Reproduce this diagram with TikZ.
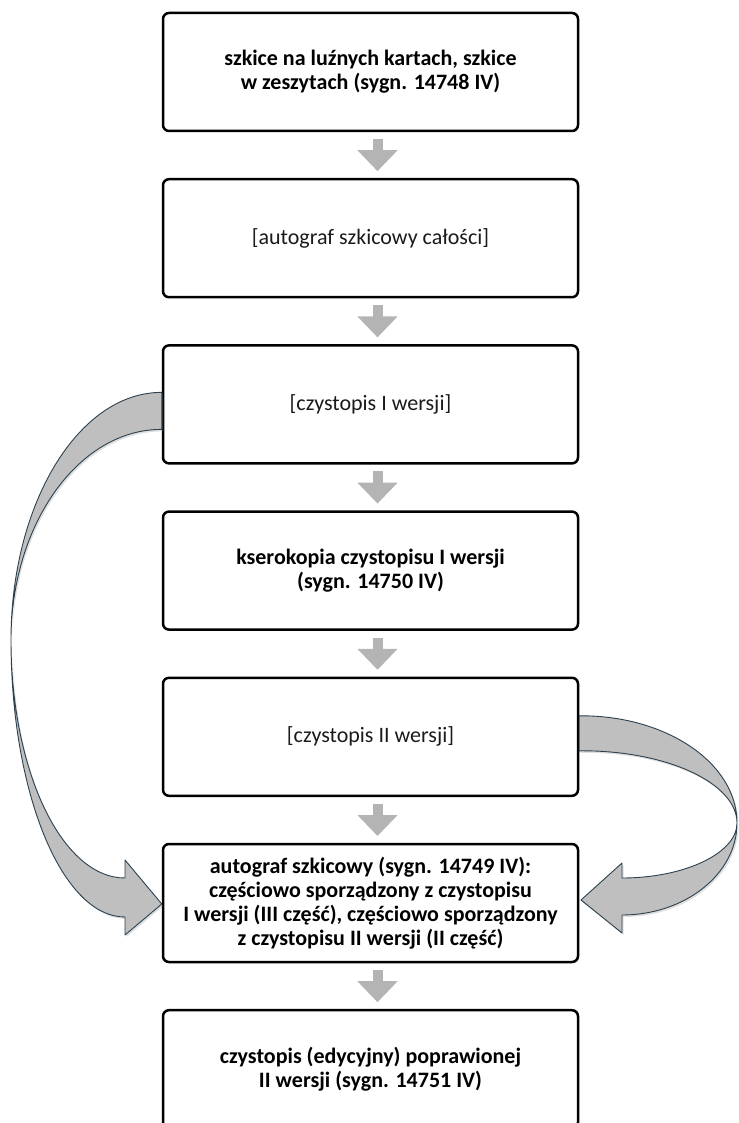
\documentclass[tikz,border=0pt]{standalone}
\usepackage{fontspec}
\setmainfont{Carlito}
\usetikzlibrary{arrows.meta,calc,positioning,shadows}

\definecolor{flowgray}{HTML}{B4B4B4}
\definecolor{bendfill}{HTML}{BFBFBF}
\definecolor{bendedge}{HTML}{2B4150}
\definecolor{txtgray}{HTML}{1A1A1A}

\tikzset{
  stage/.style={draw, line width=2.5pt, rounded corners=6pt, outer sep=0pt,
    minimum width=415pt, minimum height=118pt, inner sep=0pt, align=center,
    font=\fontsize{22}{24}\selectfont},
  stagebf/.style={stage, font=\fontsize{22}{24}\selectfont\bfseries},
  stagelt/.style={stage, text=txtgray},
  flowarr/.style={draw=flowgray, line width=10pt, line cap=butt,
    -{Triangle[width=39pt,length=21pt]}},
  bendarr/.style={fill=bendfill, draw=bendedge, line width=0.9pt, line join=round,
    drop shadow={opacity=0.25, shadow xshift=1.5pt, shadow yshift=-2pt}},
}

\begin{document}
\begin{tikzpicture}[x=1pt,y=1pt,node distance=48.2pt]
  \useasboundingbox (0,0) rectangle (738,-1123);

  % stages of the text
  \node[stagebf] (b1) at (370.5,-72) {szkice na luźnych kartach, szkice\\ w zeszytach (sygn. 14748 IV)};
  \node[stagelt, below=of b1] (b2) {[autograf szkicowy całości]};
  \node[stagelt, below=of b2] (b3) {[czystopis I wersji]};
  \node[stagebf, below=of b3] (b4) {kserokopia czystopisu I wersji\\ (sygn. 14750 IV)};
  \node[stagelt, below=of b4] (b5) {[czystopis II wersji]};
  \node[stagebf, below=of b5] (b6) {autograf szkicowy (sygn. 14749 IV):\\ częściowo sporządzony z czystopisu\\ I wersji (III część), częściowo sporządzony\\ z czystopisu II wersji (II część)};
  \node[stagebf, below=of b6] (b7) {czystopis (edycyjny) poprawionej\\ II wersji (sygn. 14751 IV)};

  % small arrows between the boxes
  \foreach \a/\b in {b1/b2,b2/b3,b3/b4,b4/b5,b5/b6,b6/b7}
    \draw[flowarr] ($(\a.south)+(7,-8)$) -- ($(\b.north)+(7,8)$);

  % bent arrow from I wersji
  \draw[bendarr] ($(b3.west)+(-1.2,12)$)
    .. controls (79,-392) and (11,-503) .. (11,-640)
    .. controls (11,-771) and (62,-878) .. (125,-878)
    -- (125,-860) -- ($(b6.west)+(-1.2,-1)$) -- (125,-935) -- (125,-917)
    .. controls (62,-917) and (11,-793) .. (11,-640)
    .. controls (11,-524) and (79,-429) .. ($(b3.west)+(-1.2,-25)$) -- cycle;

  % bent arrow from II wersji
  \draw[bendarr] ($(b5.east)+(1.2,21)$)
    .. controls (666,-715) and (737,-763) .. (737,-823)
    .. controls (737,-853) and (685,-878) .. (622,-878)
    -- (622,-863) -- ($(b6.east)+(3,3)$) -- (622,-933) -- (622,-915)
    .. controls (685,-915) and (737,-874) .. (737,-823)
    .. controls (737,-783) and (666,-750) .. ($(b5.east)+(1.2,-14)$) -- cycle;
\end{tikzpicture}
\end{document}
